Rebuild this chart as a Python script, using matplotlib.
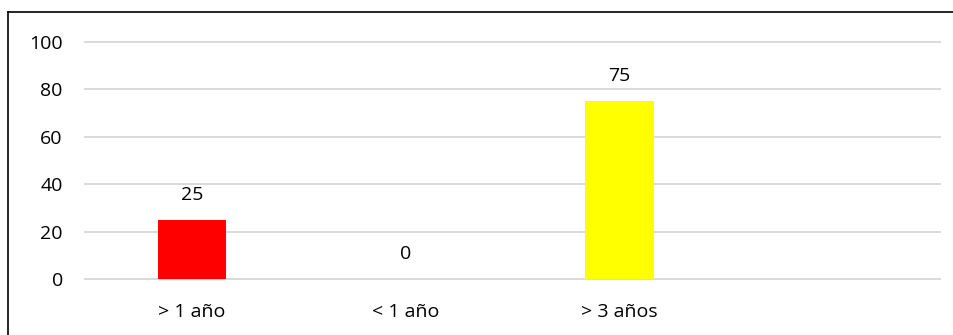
import matplotlib
matplotlib.use("Agg")
import matplotlib.pyplot as plt
from matplotlib.lines import Line2D

categories = ["> 1 año", "< 1 año", "> 3 años", ""]
values = [25, 0, 75, 0]
colors = ["#ff0000", "#ffffff", "#ffff00", "#ffffff"]
labels = ["25", "0", "75", ""]

plt.rcParams["font.family"] = ["Open Sans", "DejaVu Sans"]

W, H = 954, 335
fig = plt.figure(figsize=(W / 100, H / 100), dpi=100)

# border (left and top visible)
fig.add_artist(Line2D([8 / W, 8 / W], [0, 1 - 12 / H], color="black", lw=1.2, transform=fig.transFigure))
fig.add_artist(Line2D([8 / W, 1], [1 - 12 / H, 1 - 12 / H], color="black", lw=1.2, transform=fig.transFigure))

ax = fig.add_axes([85 / W, 1 - 279 / H, (940 - 85) / W, (279 - 42) / H])
x = range(len(categories))
bars = ax.bar(x, values, width=0.32, color=colors, zorder=3)
ax.set_xlim(-0.5, len(categories) - 0.5)
ax.set_ylim(0, 100)
ax.set_yticks([0, 20, 40, 60, 80, 100])
ax.set_xticks(list(x))
ax.set_xticklabels(categories)
ax.grid(axis="y", color="#d9d9d9", lw=1.4, zorder=0)
for gl in ax.get_ygridlines():
    gl.set_clip_on(False)
ax.set_axisbelow(True)
for s in ax.spines.values():
    s.set_visible(False)
ax.tick_params(axis="both", length=0, labelsize=14, colors="black")
ax.tick_params(axis="y", pad=16)
ax.tick_params(axis="x", pad=17)

for i, (v, t) in enumerate(zip(values, labels)):
    if t:
        ax.annotate(t, (i, v), xytext=(0, 18), textcoords="offset points",
                    ha="center", va="center", fontsize=14)

fig.savefig("out.png", dpi=100)
